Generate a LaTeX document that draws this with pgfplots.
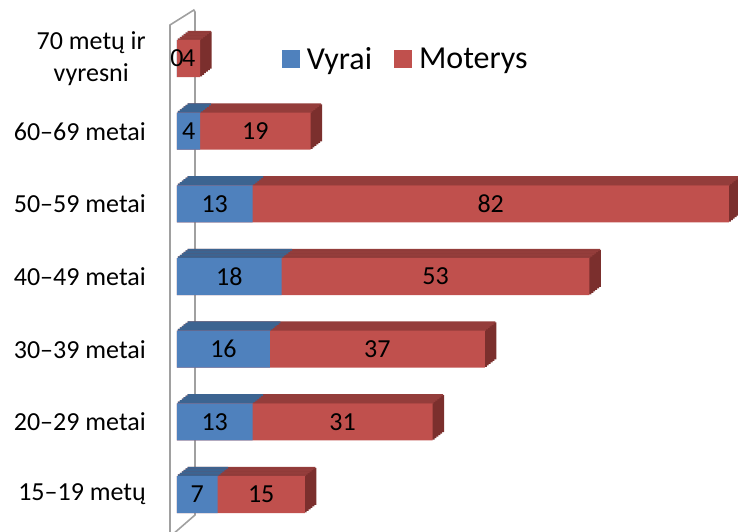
\documentclass[border=0pt]{standalone}
\usepackage{pgfplots}
\pgfplotsset{compat=1.18}
\usepackage{pgfplotstable}
\usepackage{fontspec}
\setmainfont{Carlito}

\definecolor{vfront}{HTML}{4F81BD}
\definecolor{vtop}{HTML}{3C6491}
\definecolor{mfront}{HTML}{C0504D}
\definecolor{mtop}{HTML}{943D3B}
\definecolor{mside}{HTML}{7B2F2D}
\definecolor{wall}{HTML}{A0A0A0}

% y = category index (bottom to top), v = Vyrai, m = Moterys
\pgfplotstableread{
y v m
0 7 15
1 13 31
2 16 37
3 18 53
4 13 82
5 4 19
6 0 4
}\ages

% depth of the 3D bars: 11.5pt right, 9pt up, in 6 steps
\def\dxs{1.9167pt}
\def\dys{1.5pt}

\begin{document}
\begin{tikzpicture}
\begin{axis}[
  x=5.81pt, y=72.67pt,
  xmin=-1.6, xmax=96.56,
  ymin=-0.502, ymax=6.805,
  enlargelimits=false,
  axis line style={draw=none},
  tick style={draw=none},
  xtick=\empty,
  ytick={0,...,6},
  yticklabels={15–19 metų, 20–29 metai, 30–39 metai, 40–49 metai, 50–59 metai, 60–69 metai, {70 metų ir\\vyresni}},
  yticklabel style={anchor=east, align=center, inner sep=0pt, xshift=-21.7pt, font=\fontsize{26}{32}\selectfont},
  /pgf/number format/assume math mode=true,
  legend style={draw=none, fill=none, at={(axis cs:17.5,5.99)}, anchor=west,
    legend columns=2, font=\fontsize{32}{38}\selectfont,
    /tikz/every odd column/.append style={column sep=5pt},
    /tikz/every even column/.append style={column sep=20pt}},
  legend image code/.code={\fill[#1] (0pt,-9pt) rectangle (18pt,9pt);},
  every axis plot/.append style={draw=none, bar shift=0pt, forget plot},
]
% back wall
\draw[wall, line width=1.6pt] (axis cs:-1.205,-0.7) -- (axis cs:-1.205,6.461) -- (axis cs:2.9,6.667)
  -- (axis cs:3.098,6.64) -- (axis cs:3.098,-0.282) -- (axis cs:-0.9,-0.56);

% side faces (right end of each bar)
\pgfplotsinvokeforeach{1,...,6}{
  \addplot[xbar, bar width=37pt, fill=mside, xshift=#1*\dxs, yshift=(#1-0.5)*\dys]
    table[x expr=\thisrow{v}+\thisrow{m}, y=y] {\ages};
}
% top faces
\pgfplotsinvokeforeach{1,...,6}{
  \addplot[xbar, bar width=1.9pt, fill=mtop, xshift=(#1-0.5)*\dxs, yshift=18.5pt+(#1-0.5)*\dys]
    table[x expr=\thisrow{v}+\thisrow{m}, y=y] {\ages};
}
\pgfplotsinvokeforeach{1,...,6}{
  \addplot[xbar, bar width=1.9pt, fill=vtop, xshift=(#1-0.5)*\dxs, yshift=18.5pt+(#1-0.5)*\dys]
    table[x=v, y=y] {\ages};
}
% front faces
\addplot[xbar, bar width=37pt, fill=mfront]
  table[x expr=\thisrow{v}+\thisrow{m}, y=y] {\ages};
\addplot[xbar, bar width=37pt, fill=vfront]
  table[x=v, y=y] {\ages};

% value labels, centred in each segment
\addplot[mark=none, nodes near coords, point meta=explicit,
  nodes near coords style={anchor=center, font=\fontsize{26}{32}\selectfont, text=black}]
  table[x expr=\thisrow{v}/2, y=y, meta=v] {\ages};
\addplot[mark=none, nodes near coords, point meta=explicit,
  nodes near coords style={anchor=center, font=\fontsize{26}{32}\selectfont, text=black}]
  table[x expr=\thisrow{v}+\thisrow{m}/2, y=y, meta=m] {\ages};

\addlegendimage{fill=vfront, draw=none}
\addlegendentry{Vyrai}
\addlegendimage{fill=mfront, draw=none}
\addlegendentry{Moterys}

\coordinate (bl) at (axis cs:-30.46,-0.502);
\coordinate (tr) at (axis cs:96.56,6.805);
\end{axis}
\pgfresetboundingbox
\useasboundingbox (bl) rectangle (tr);
\end{tikzpicture}
\end{document}
